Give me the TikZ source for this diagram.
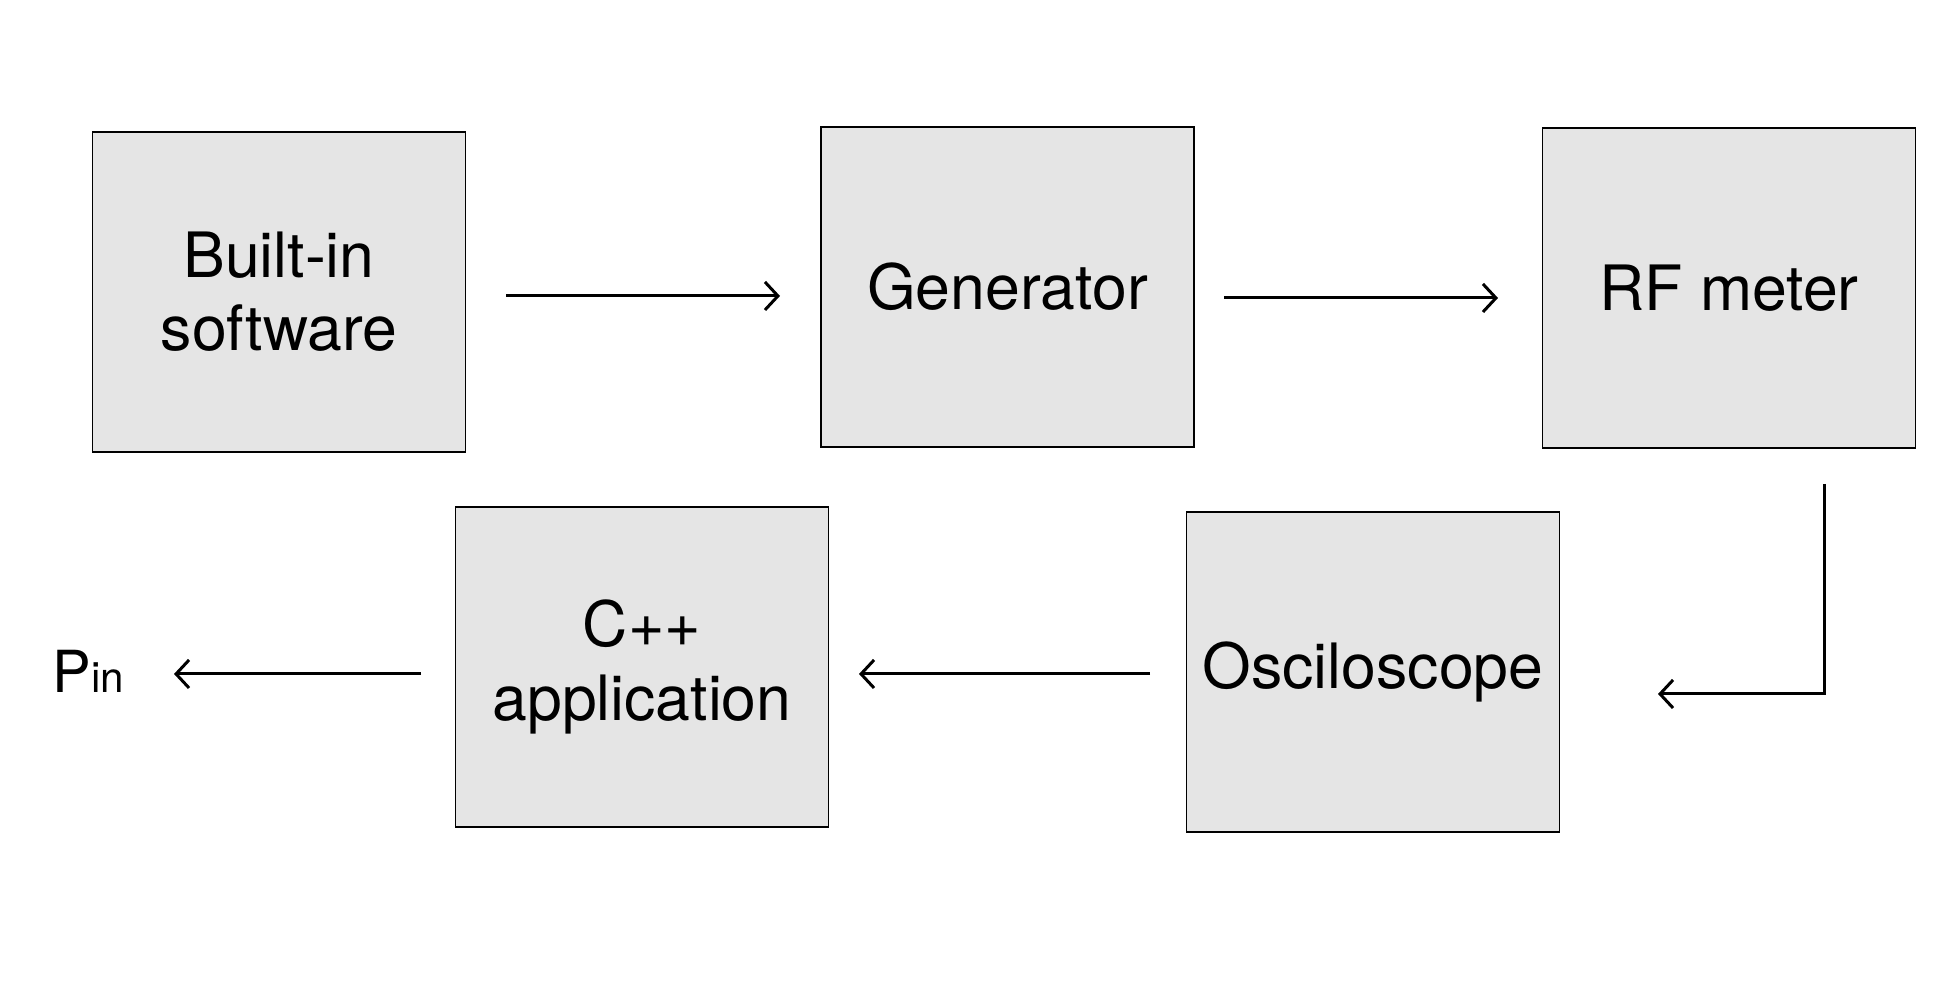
\documentclass[tikz,border=0pt]{standalone}
\usepackage{fontspec}
\setmainfont{TeX Gyre Heros}
\usetikzlibrary{arrows.meta}
\definecolor{boxgray}{HTML}{E5E5E5}
\tikzset{
  block/.style={draw=black, line width=0.45pt, fill=boxgray, minimum width=3.73cm,
    minimum height=3.2cm, inner sep=0pt, align=center,
    font=\fontsize{17.8}{20.8}\selectfont},
  flow/.style={line width=0.85pt, -{Straight Barb[length=1.3mm,width=2.8mm,line width=0.85pt]}}
}
\begin{document}
\begin{tikzpicture}
            \useasboundingbox (0,0) rectangle (19.53,10);
            % boxes
            \node[block] (soft) at(2.79,7.08) {Built-in\\software};
            \node[block] (gen) at(10.075,7.13) {Generator};
            \node[block] (rf) at(17.29,7.12) {RF meter};
            \node[block] (osc) at(13.73,3.28) {Osciloscope};
            \node[block] (app) at(6.42,3.33) {C++\\application};
            \node[anchor=base west, inner sep=0pt, font=\fontsize{16.5}{20}\selectfont] (pin) at(0.52,3.07) {P{\fontsize{12}{15}\selectfont in}};
            % arrow ends
            \coordinate (s1) at(5.06,7.04);
            \coordinate (e1) at(7.80,7.04);
            \coordinate (s2) at(12.24,7.02);
            \coordinate (e2) at(14.98,7.02);
            \coordinate (s3) at(18.24,5.16);
            \coordinate (c3) at(18.24,3.06);
            \coordinate (e3) at(16.58,3.06);
            \coordinate (s4) at(11.50,3.26);
            \coordinate (e4) at(8.59,3.26);
            \coordinate (s5) at(4.21,3.26);
            \coordinate (e5) at(1.74,3.26);
            \draw[flow] (s1) -- (e1);
            \draw[flow] (s2) -- (e2);
            \draw[flow] (s3) -- (c3) -- (e3);
            \draw[flow] (s4) -- (e4);
            \draw[flow] (s5) -- (e5);
        \end{tikzpicture}
\end{document}
